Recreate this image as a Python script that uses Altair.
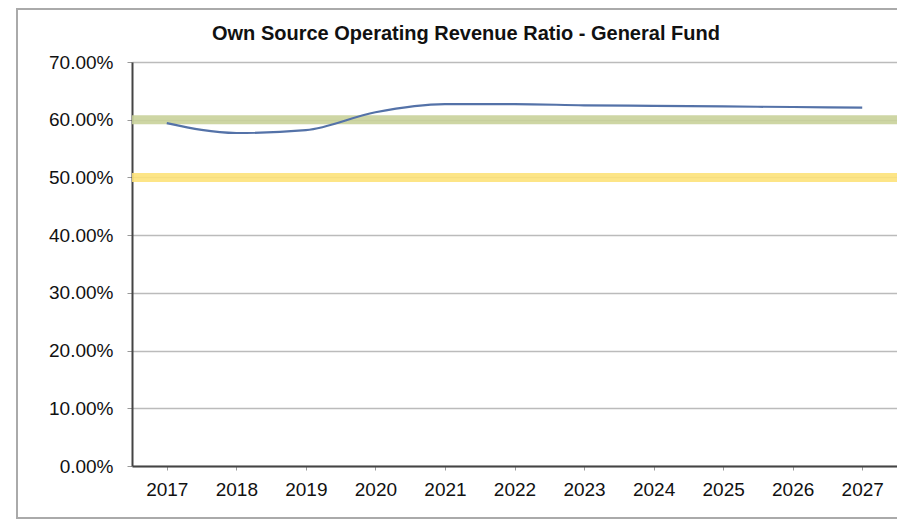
import altair as alt
import pandas as pd

years = ["2017", "2018", "2019", "2020", "2021", "2022", "2023", "2024", "2025", "2026", "2027"]
ratio = [0.594, 0.577, 0.582, 0.613, 0.627, 0.627, 0.625, 0.624, 0.623, 0.622, 0.621]

bench_names = ["Upper benchmark", "Lower benchmark"]
bench_values = [0.60, 0.50]
bench_colors = ["#c9d29a", "#fde27a"]

df = pd.DataFrame({"year": years, "ratio": ratio})
bench = pd.DataFrame({"name": bench_names, "value": bench_values, "color": bench_colors})

FONT = "Liberation Sans"

x_enc = alt.X(
    "year:N",
    sort=years,
    scale=alt.Scale(paddingInner=1, paddingOuter=0.5),
    axis=alt.Axis(title=None, labelAngle=0, labelFontSize=19, labelFont=FONT,
                  labelColor="#111", domainColor="#444", domainWidth=2,
                  tickColor="#999", tickSize=4, labelPadding=10, grid=False),
)
y_scale = alt.Scale(domain=[0, 0.7])
y_axis = alt.Axis(title=None, format=".2%", values=[0, 0.1, 0.2, 0.3, 0.4, 0.5, 0.6, 0.7],
                  labelFontSize=19, labelFont=FONT, labelColor="#111",
                  domainColor="#444", domainWidth=2, tickColor="#999", tickSize=5,
                  labelPadding=14, grid=True, gridColor="#bbbbbb", gridWidth=1.3)

bands = alt.Chart(bench).mark_rule(strokeWidth=9, opacity=0.9).encode(
    y=alt.Y("value:Q", scale=y_scale, axis=y_axis),
    color=alt.Color("color:N", scale=None),
)

line = alt.Chart(df).mark_line(interpolate="monotone", color="#5472a8", strokeWidth=2.2).encode(
    x=x_enc,
    y=alt.Y("ratio:Q", scale=y_scale, axis=y_axis),
)

frame = alt.Chart(df).mark_rect(fill=None, stroke="#aaaaaa", strokeWidth=1.5).encode(
    x=alt.value(-115), x2=alt.value(790), y=alt.value(-53), y2=alt.value(456)
)

chart = alt.layer(frame, bands, line).properties(
    width=765,
    height=404,
    title=alt.TitleParams(
        "Own Source Operating Revenue Ratio - General Fund",
        font=FONT, fontSize=20, fontWeight="bold", color="#111",
        anchor="start", frame="group", dx=80, offset=-36,
    ),
    autosize=alt.AutoSizeParams(type="none"),
    padding={"left": 124, "top": 54, "right": 0, "bottom": 53},
).configure_view(stroke="#555", strokeWidth=1.2).configure(background="white")

chart.save("out.html", embed_options={"renderer": "svg", "actions": False})
